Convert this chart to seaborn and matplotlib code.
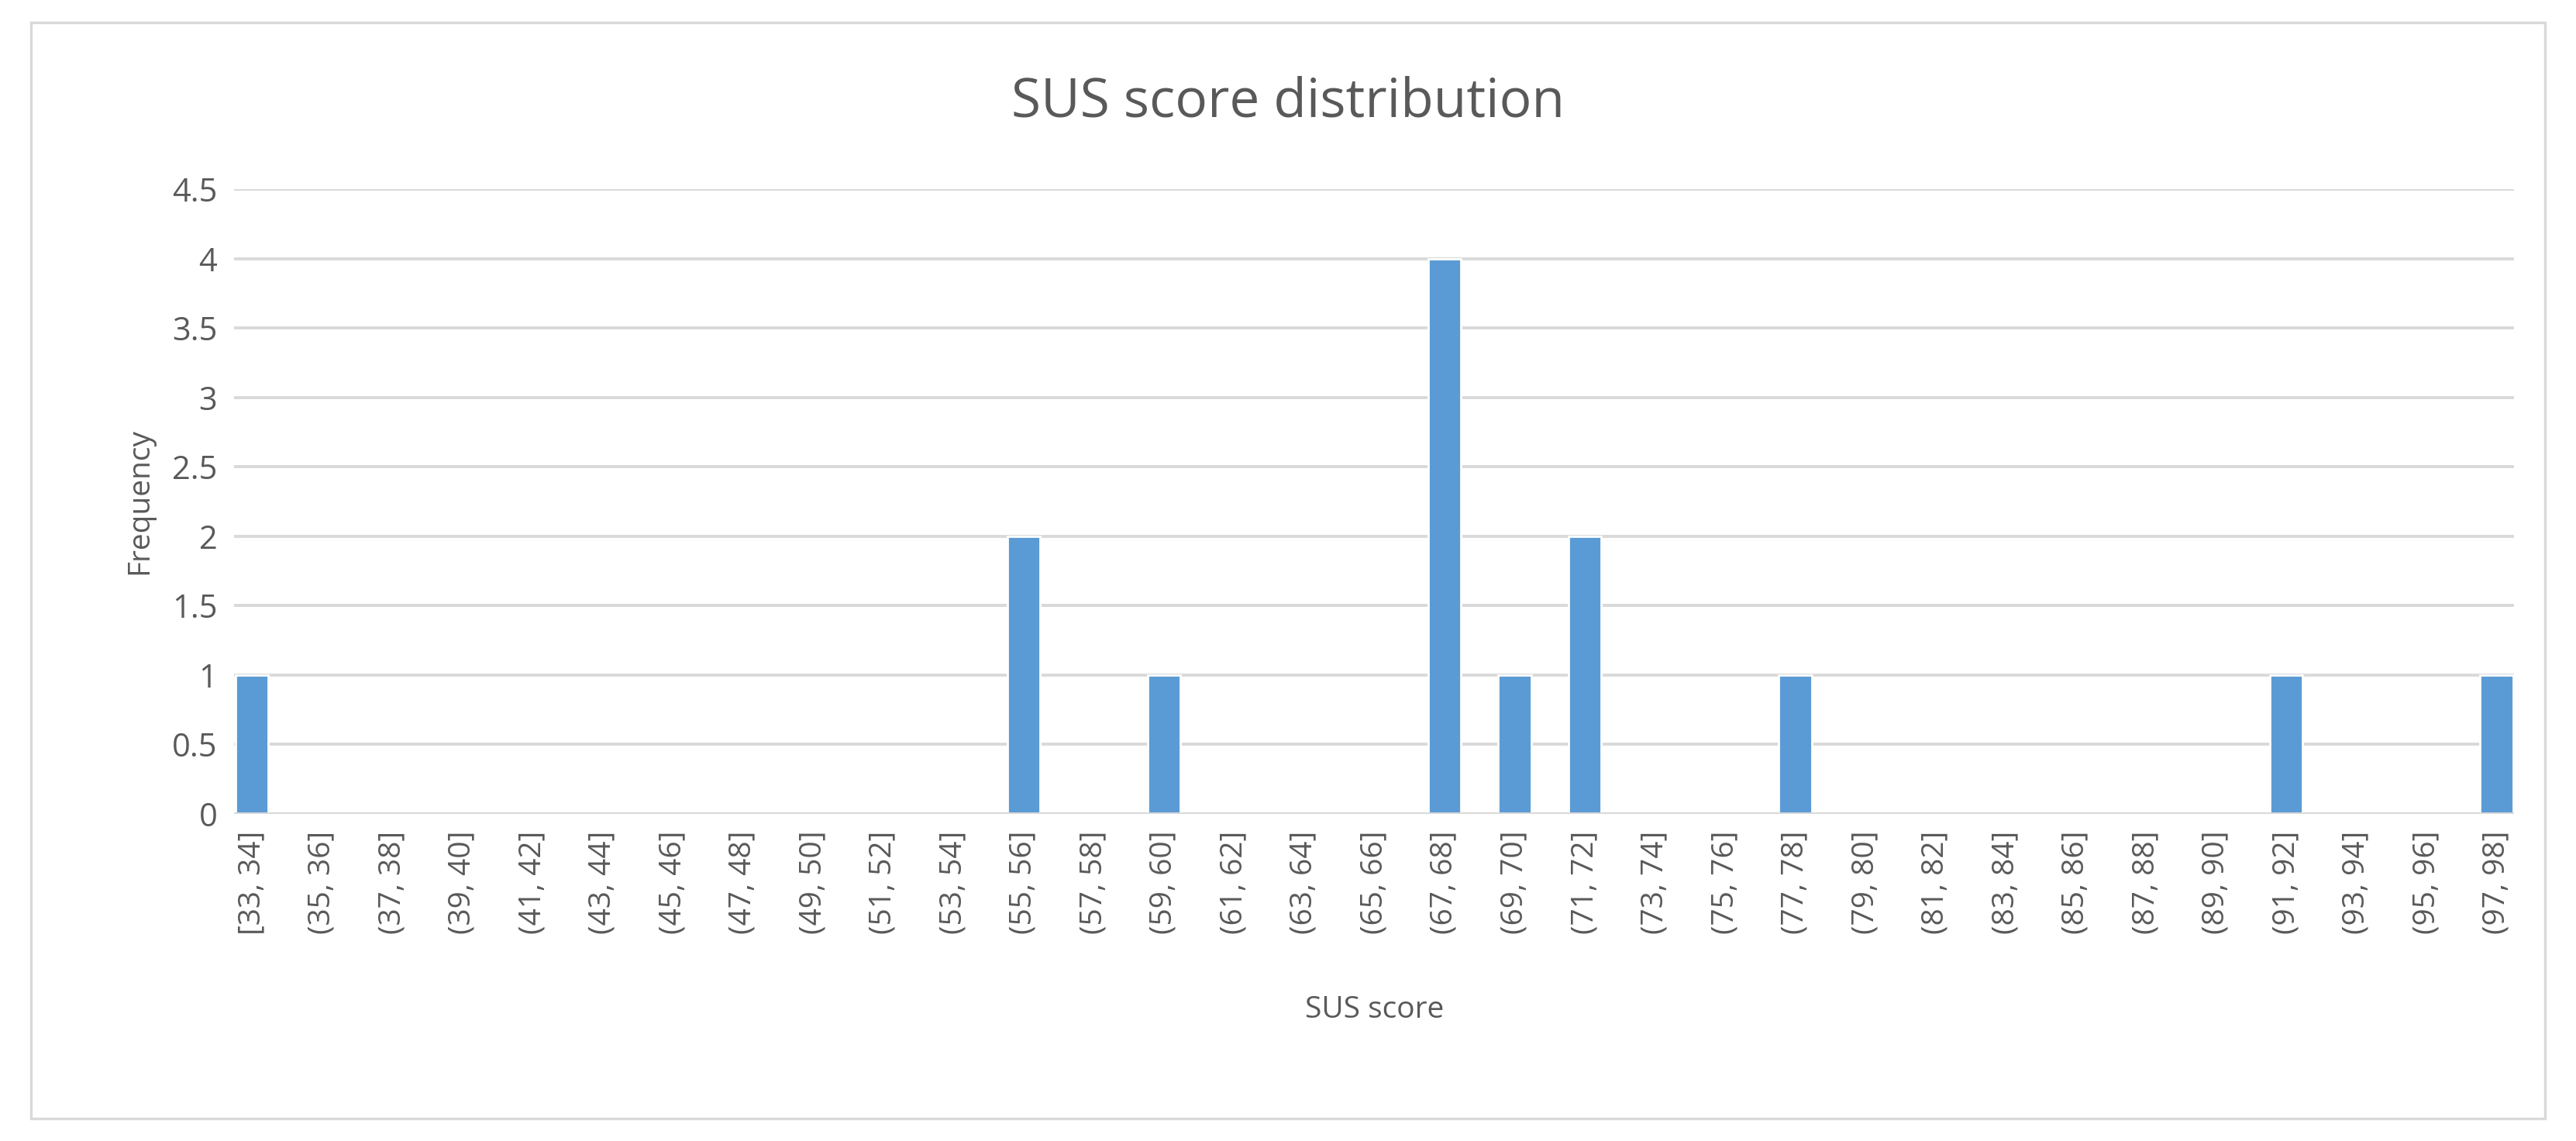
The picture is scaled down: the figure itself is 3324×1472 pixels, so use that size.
import matplotlib
matplotlib.use("Agg")
import matplotlib.pyplot as plt
import seaborn as sns
import pandas as pd
from matplotlib.patches import Rectangle

# Bin labels and frequencies
bins = ["[33, 34]"] + [f"({a}, {a+1}]" for a in range(35, 98, 2)]
freq = [0] * len(bins)
counts = {"[33, 34]": 1, "(55, 56]": 2, "(59, 60]": 1, "(67, 68]": 4,
          "(69, 70]": 1, "(71, 72]": 2, "(77, 78]": 1, "(91, 92]": 1, "(97, 98]": 1}
for k, v in counts.items():
    freq[bins.index(k)] = v

df = pd.DataFrame({"SUS score": bins, "Frequency": freq})

sns.set_style("white")
plt.rcParams["font.family"] = ["Open Sans", "DejaVu Sans"]
txt = "#595959"

fig = plt.figure(figsize=(16.62, 7.36), dpi=200)
ax = fig.add_axes([0.091, 0.287, 0.885, 0.547])
sns.barplot(data=df, x="SUS score", y="Frequency", color="#5B9BD5",
            width=0.47, saturation=1, ax=ax)
ax.set_xlim(-0.25, len(bins) - 0.75)
ax.set_ylim(0, 4.5)
ax.set_yticks([i * 0.5 for i in range(10)])
ax.set_yticklabels([f"{i*0.5:g}" for i in range(10)], fontsize=15, color=txt)
ax.set_xticks(range(len(bins)))
ax.set_xticklabels(bins, rotation=90, fontsize=14, color=txt)
ax.tick_params(length=0, pad=8)
ax.grid(axis="y", color="#D9D9D9", linewidth=1.4)
ax.set_axisbelow(True)
for s in ax.spines.values():
    s.set_visible(False)
ax.axhline(0, color="#D9D9D9", linewidth=1.4)
ax.set_xlabel("SUS score", fontsize=14, color=txt, labelpad=28)
ax.set_ylabel("Frequency", fontsize=14, color=txt, labelpad=8)
fig.text(0.5, 0.91, "SUS score distribution", ha="center", va="center",
         fontsize=25, color=txt)
fig.patches.append(Rectangle((0.012, 0.02), 0.976, 0.96, transform=fig.transFigure,
                             fill=False, edgecolor="#D9D9D9", linewidth=1.2))
fig.savefig("out.png", dpi=200, facecolor="white")
